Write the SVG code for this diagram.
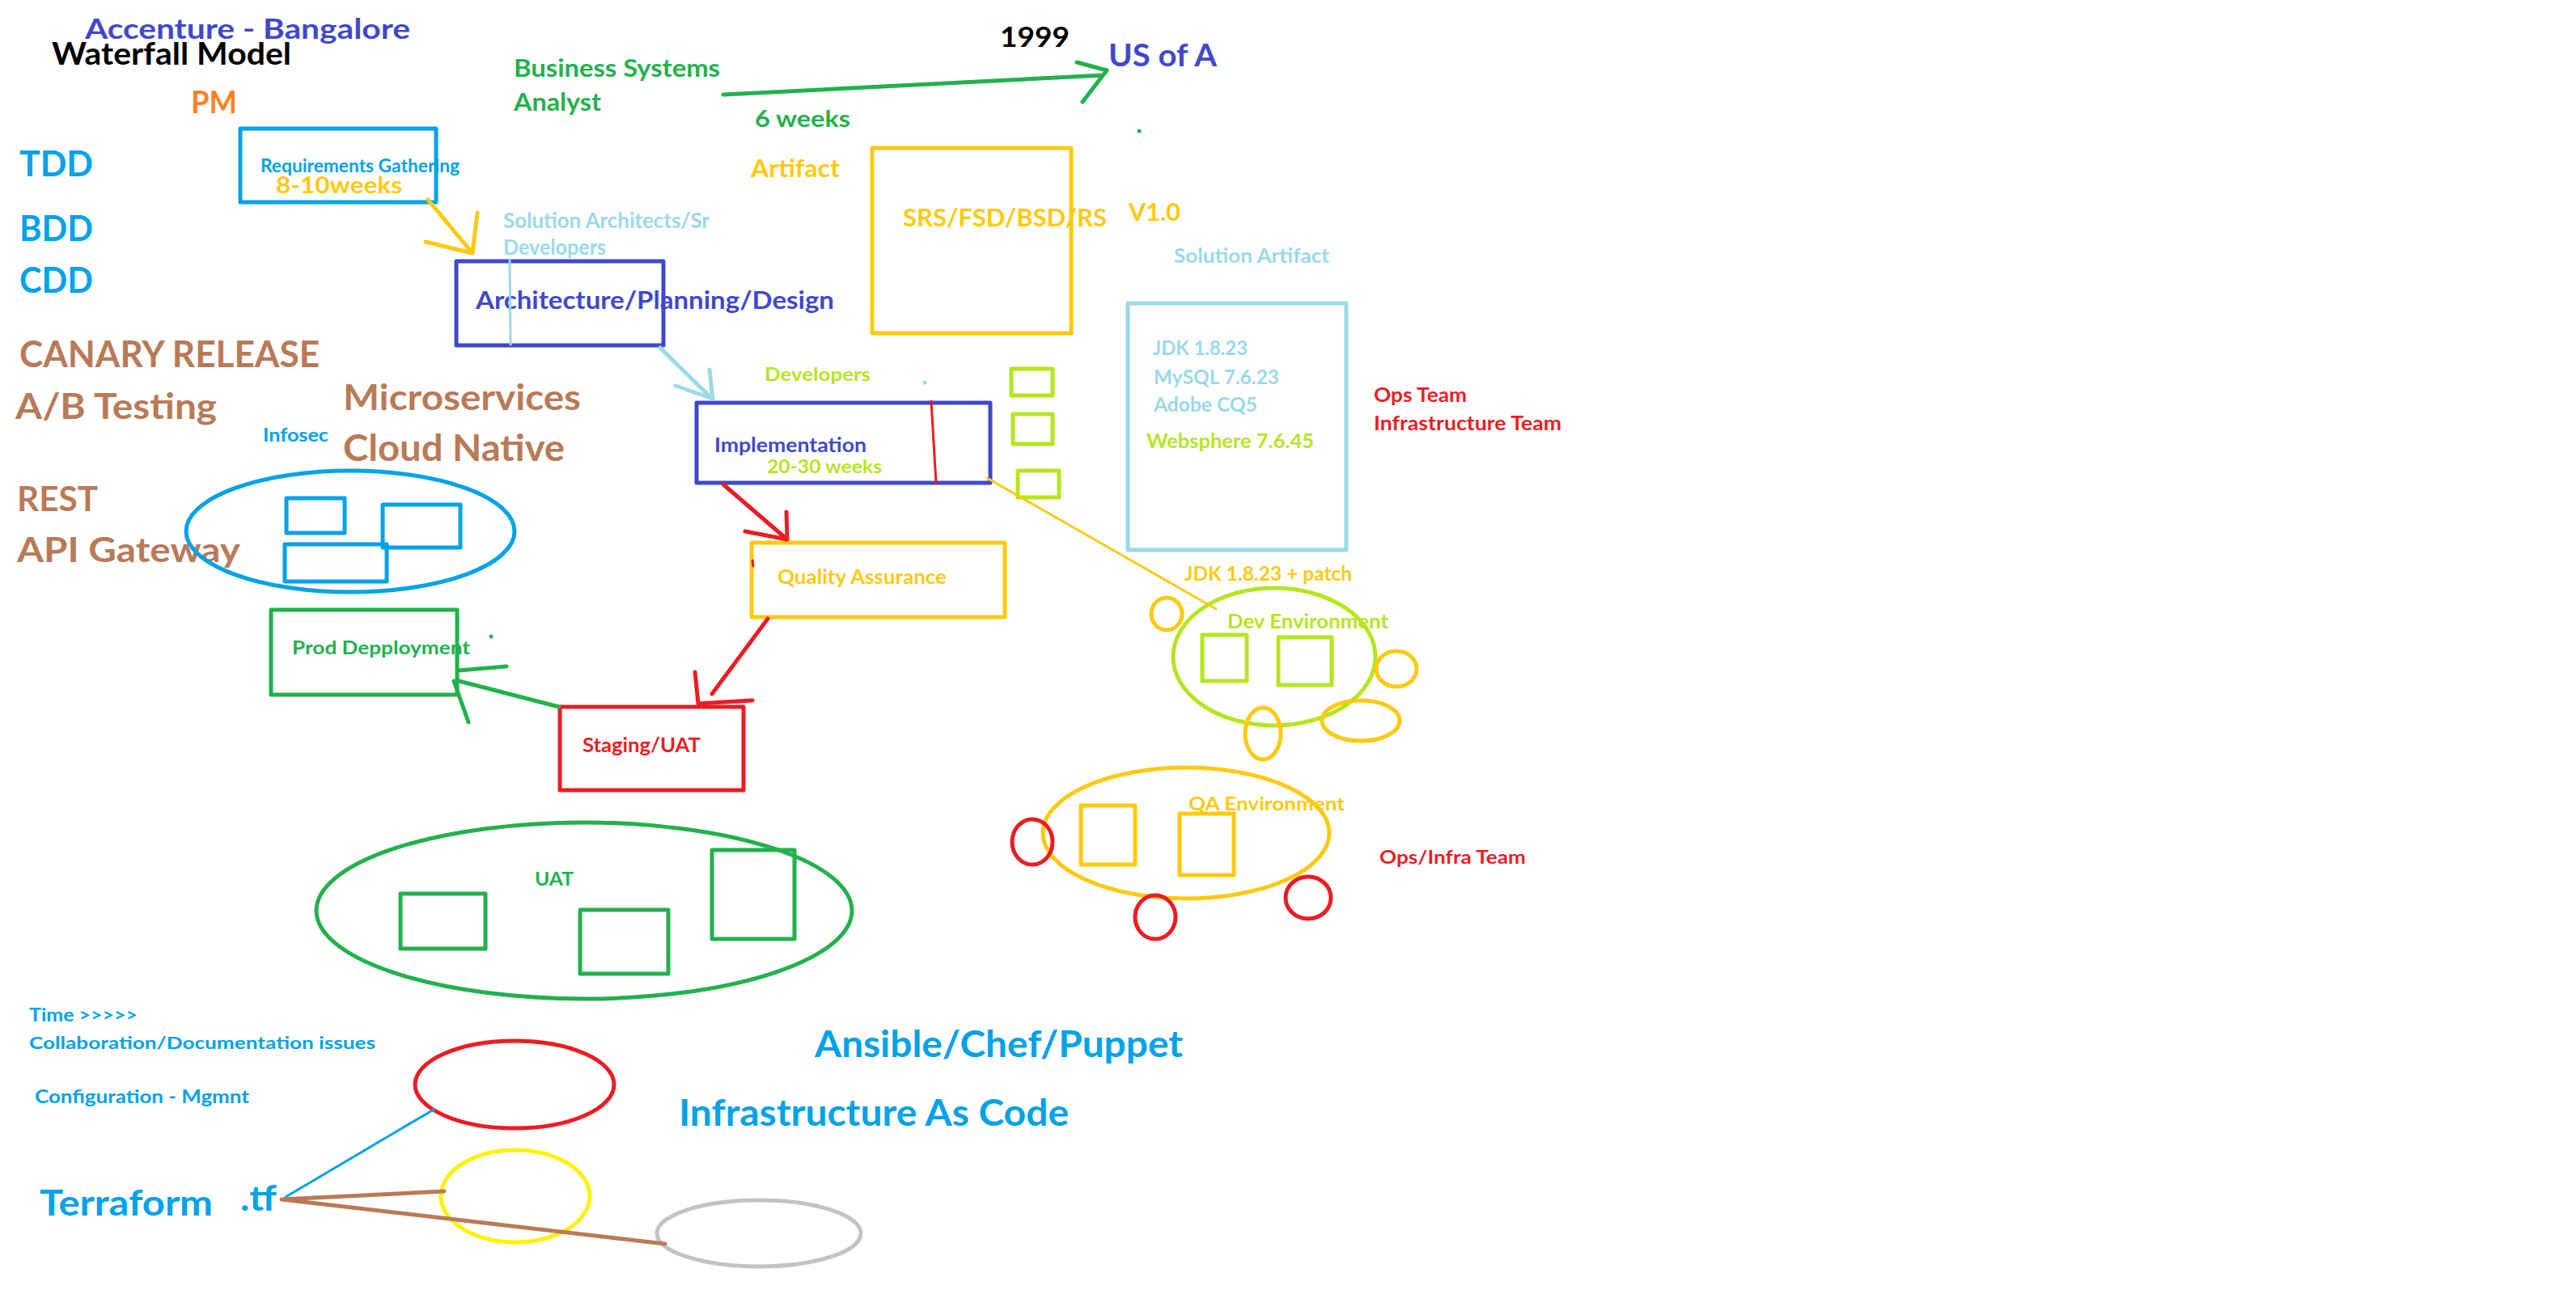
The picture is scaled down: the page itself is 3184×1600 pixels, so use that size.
<svg xmlns="http://www.w3.org/2000/svg" width="3184" height="1600" viewBox="0 0 3184 1600">
<style>
text{font-family:Lato,"Liberation Sans",sans-serif;font-weight:700}
.s{fill:none;stroke-width:5;stroke-linecap:round;stroke-linejoin:round}
.t{fill:none;stroke-width:3;stroke-linecap:round}
.indigo{fill:#3F48CC}.blue{fill:#00A2E8}.lblue{fill:#99D9EA}.green{fill:#22B14C}.lime{fill:#B5E61D}.gold{fill:#FFC90E}.orange{fill:#FF7F27}.red{fill:#ED1C24}.brown{fill:#B97A57}.black{fill:#000}
.kI{stroke:#3F48CC}.kB{stroke:#00A2E8}.kL{stroke:#99D9EA}.kG{stroke:#22B14C}.kM{stroke:#B5E61D}.kY{stroke:#FFC90E}.kR{stroke:#ED1C24}.kW{stroke:#B97A57}.kX{stroke:#C3C3C3}.kZ{stroke:#FFF200}
</style>
<rect width="3184" height="1600" fill="#fff"/>
<g id="notes">
<text class="indigo" x="105" y="48" font-size="35" textLength="402" lengthAdjust="spacingAndGlyphs">Accenture - Bangalore</text>
<text class="black" x="64" y="80" font-size="38" textLength="296" lengthAdjust="spacingAndGlyphs">Waterfall Model</text>
<text class="green" x="635" y="95" font-size="31" textLength="255" lengthAdjust="spacingAndGlyphs">Business Systems</text>
<text class="green" x="635" y="137" font-size="31" textLength="108" lengthAdjust="spacingAndGlyphs">Analyst</text>
<text class="orange" x="236" y="140" font-size="38" textLength="57" lengthAdjust="spacingAndGlyphs">PM</text>
<text class="blue" x="24" y="218" font-size="43" textLength="91" lengthAdjust="spacingAndGlyphs">TDD</text>
<text class="blue" x="24" y="298" font-size="43" textLength="91" lengthAdjust="spacingAndGlyphs">BDD</text>
<text class="blue" x="24" y="362" font-size="43" textLength="91" lengthAdjust="spacingAndGlyphs">CDD</text>
<text class="brown" x="24" y="454" font-size="46" textLength="371" lengthAdjust="spacingAndGlyphs">CANARY RELEASE</text>
<text class="brown" x="19" y="518" font-size="43" textLength="249" lengthAdjust="spacingAndGlyphs">A/B Testing</text>
<text class="brown" x="424" y="507" font-size="43" textLength="294" lengthAdjust="spacingAndGlyphs">Microservices</text>
<text class="blue" x="325" y="546" font-size="22" textLength="81" lengthAdjust="spacingAndGlyphs">Infosec</text>
<text class="brown" x="424" y="570" font-size="45" textLength="274" lengthAdjust="spacingAndGlyphs">Cloud Native</text>
<text class="brown" x="21" y="632" font-size="42" textLength="100" lengthAdjust="spacingAndGlyphs">REST</text>
<text class="brown" x="21" y="695" font-size="42" textLength="276" lengthAdjust="spacingAndGlyphs">API Gateway</text>
<text class="lblue" x="622" y="282" font-size="26" textLength="255" lengthAdjust="spacingAndGlyphs">Solution Architects/Sr</text>
<text class="lblue" x="622" y="315" font-size="26" textLength="127" lengthAdjust="spacingAndGlyphs">Developers</text>
<text class="black" x="1236" y="58" font-size="35" textLength="86" lengthAdjust="spacingAndGlyphs">1999</text>
<text class="indigo" x="1370" y="82" font-size="38" textLength="134" lengthAdjust="spacingAndGlyphs">US of A</text>
<text class="green" x="933" y="157" font-size="28" textLength="118" lengthAdjust="spacingAndGlyphs">6 weeks</text>
<text class="gold" x="928" y="219" font-size="31" textLength="110" lengthAdjust="spacingAndGlyphs">Artifact</text>
<text class="gold" x="1395" y="273" font-size="31" textLength="64" lengthAdjust="spacingAndGlyphs">V1.0</text>
<text class="lblue" x="1451" y="325" font-size="24" textLength="192" lengthAdjust="spacingAndGlyphs">Solution Artifact</text>
<text class="lime" x="945" y="471" font-size="22" textLength="131" lengthAdjust="spacingAndGlyphs">Developers</text>
<text class="red" x="1698" y="497" font-size="25" textLength="115" lengthAdjust="spacingAndGlyphs">Ops Team</text>
<text class="red" x="1698" y="532" font-size="25" textLength="232" lengthAdjust="spacingAndGlyphs">Infrastructure Team</text>
<text class="gold" x="1464" y="718" font-size="25" textLength="207" lengthAdjust="spacingAndGlyphs">JDK 1.8.23 + patch</text>
<text class="red" x="1705" y="1068" font-size="22" textLength="181" lengthAdjust="spacingAndGlyphs">Ops/Infra Team</text>
<text class="blue" x="36" y="1263" font-size="22" textLength="134" lengthAdjust="spacingAndGlyphs">Time &gt;&gt;&gt;&gt;&gt;</text>
<text class="blue" x="36" y="1297" font-size="21" textLength="428" lengthAdjust="spacingAndGlyphs">Collaboration/Documentation issues</text>
<text class="blue" x="43" y="1364" font-size="22" textLength="265" lengthAdjust="spacingAndGlyphs">Configuration - Mgmnt</text>
<text class="blue" x="1007" y="1307" font-size="46" textLength="455" lengthAdjust="spacingAndGlyphs">Ansible/Chef/Puppet</text>
<text class="blue" x="839" y="1392" font-size="46" textLength="482" lengthAdjust="spacingAndGlyphs">Infrastructure As Code</text>
<text class="blue" x="49" y="1503" font-size="43" textLength="214" lengthAdjust="spacingAndGlyphs">Terraform</text>
<text class="blue" x="297" y="1497" font-size="43" textLength="45" lengthAdjust="spacingAndGlyphs">.tf</text>
<circle cx="607" cy="787" r="2.5" fill="#22B14C"/>
<circle cx="1408" cy="162" r="2.5" fill="#22B14C"/>
<circle cx="1143" cy="473" r="2.5" fill="#99D9EA"/>
</g>
<g id="requirements">
<rect class="s kB" x="297" y="159" width="242" height="91"/>
<text class="blue" x="322" y="213" font-size="22" textLength="246" lengthAdjust="spacingAndGlyphs">Requirements Gathering</text>
<text class="gold" x="341" y="239" font-size="29" textLength="156" lengthAdjust="spacingAndGlyphs">8-10weeks</text>
</g>
<g id="architecture">
<rect class="s kI" x="564" y="323" width="256" height="104"/>
<text class="indigo" x="588" y="382" font-size="31" textLength="443" lengthAdjust="spacingAndGlyphs">Architecture/Planning/Design</text>
</g>
<g id="srs">
<rect class="s kY" x="1078" y="183" width="246" height="229"/>
<text class="gold" x="1116" y="280" font-size="31" textLength="252" lengthAdjust="spacingAndGlyphs">SRS/FSD/BSD/RS</text>
</g>
<g id="solution-artifact">
<rect class="s kL" x="1394" y="375" width="270" height="305"/>
<text class="lblue" x="1425" y="439" font-size="24" textLength="117" lengthAdjust="spacingAndGlyphs">JDK 1.8.23</text>
<text class="lblue" x="1426" y="475" font-size="24" textLength="155" lengthAdjust="spacingAndGlyphs">MySQL 7.6.23</text>
<text class="lblue" x="1426" y="509" font-size="24" textLength="128" lengthAdjust="spacingAndGlyphs">Adobe CQ5</text>
<text class="lime" x="1417" y="554" font-size="24" textLength="207" lengthAdjust="spacingAndGlyphs">Websphere 7.6.45</text>
</g>
<g id="dev-squares">
<rect class="s kM" x="1250" y="456" width="51" height="33"/>
<rect class="s kM" x="1252" y="512" width="49" height="37"/>
<rect class="s kM" x="1258" y="582" width="51" height="33"/>
</g>
<g id="implementation">
<rect class="s kI" x="861" y="498" width="363" height="99"/>
<text class="indigo" x="883" y="559" font-size="24" textLength="188" lengthAdjust="spacingAndGlyphs">Implementation</text>
<text class="lime" x="948" y="585" font-size="22" textLength="142" lengthAdjust="spacingAndGlyphs">20-30 weeks</text>
</g>
<g id="quality-assurance">
<rect class="s kY" x="929" y="671" width="313" height="92"/>
<text class="gold" x="961" y="722" font-size="24" textLength="209" lengthAdjust="spacingAndGlyphs">Quality Assurance</text>
</g>
<g id="infosec">
<ellipse class="s kB" cx="433" cy="657" rx="203" ry="75"/>
<rect class="s kB" x="354" y="616" width="72" height="43"/>
<rect class="s kB" x="473" y="624" width="96" height="53"/>
<rect class="s kB" x="352" y="673" width="126" height="46"/>
</g>
<g id="prod-deployment">
<rect class="s kG" x="335" y="754" width="230" height="105"/>
<text class="green" x="361" y="809" font-size="22" textLength="220" lengthAdjust="spacingAndGlyphs">Prod Depployment</text>
</g>
<g id="staging">
<rect class="s kR" x="692" y="874" width="227" height="103"/>
<text class="red" x="720" y="930" font-size="25" textLength="146" lengthAdjust="spacingAndGlyphs">Staging/UAT</text>
</g>
<g id="uat">
<ellipse class="s kG" cx="722" cy="1126" rx="331" ry="109"/>
<rect class="s kG" x="495" y="1105" width="105" height="68"/>
<rect class="s kG" x="717" y="1125" width="109" height="79"/>
<rect class="s kG" x="880" y="1051" width="102" height="110"/>
<text class="green" x="661" y="1095" font-size="22" textLength="48" lengthAdjust="spacingAndGlyphs">UAT</text>
</g>
<g id="dev-environment">
<ellipse class="s kM" cx="1575" cy="812" rx="125" ry="85"/>
<rect class="s kM" x="1486" y="785" width="55" height="57"/>
<rect class="s kM" x="1580" y="788" width="66" height="59"/>
<text class="lime" x="1517" y="777" font-size="24" textLength="199" lengthAdjust="spacingAndGlyphs">Dev Environment</text>
<ellipse class="s kY" cx="1442" cy="759" rx="19" ry="20"/>
<ellipse class="s kY" cx="1726" cy="827" rx="25" ry="22"/>
<ellipse class="s kY" cx="1561" cy="907" rx="22" ry="32"/>
<ellipse class="s kY" cx="1682" cy="891" rx="48" ry="25"/>
</g>
<g id="qa-environment">
<ellipse class="s kY" cx="1466" cy="1030" rx="177" ry="81"/>
<rect class="s kY" x="1336" y="996" width="67" height="73"/>
<rect class="s kY" x="1458" y="1006" width="67" height="76"/>
<text class="gold" x="1469" y="1002" font-size="22" textLength="193" lengthAdjust="spacingAndGlyphs">QA Environment</text>
<ellipse class="s kR" cx="1276" cy="1041" rx="25" ry="28"/>
<ellipse class="s kR" cx="1428" cy="1134" rx="25" ry="27"/>
<ellipse class="s kR" cx="1617" cy="1110" rx="28" ry="26"/>
</g>
<g id="iac-targets">
<ellipse class="s kR" cx="636" cy="1341" rx="123" ry="54"/>
<ellipse class="s kZ" cx="637" cy="1479" rx="92" ry="57"/>
<ellipse class="s kX" cx="938" cy="1525" rx="126" ry="41"/>
</g>
<g id="connectors">
<path class="s kY" d="M529 247L584 313M590 263L584 313M526 299L584 313"/>
<path class="t kL" d="M630 322L631 426"/>
<path class="s kL" d="M816 430L880 493M877 457L881 493M835 477L881 493"/>
<path class="s kG" d="M894 117L1363 93M1331 77L1368 87M1338 126L1368 87"/>
<path class="t kR" d="M1151 496L1157 597"/>
<path class="s kR" d="M894 599L973 667M972 633L973 667M921 657L973 667"/>
<path class="t kR" d="M930 693L931 700"/>
<path class="t kY" d="M1220 591L1503 753"/>
<path class="s kR" d="M949 765L880 858M859 831L863 870M930 866L863 870"/>
<path class="s kG" d="M691 874L567 842M626 824L567 829M561 842L579 893"/>
<path class="t kB" d="M353 1480L536 1372"/>
<path class="s kW" d="M348 1483L549 1473M348 1483L822 1538"/>
</g>
</svg>
